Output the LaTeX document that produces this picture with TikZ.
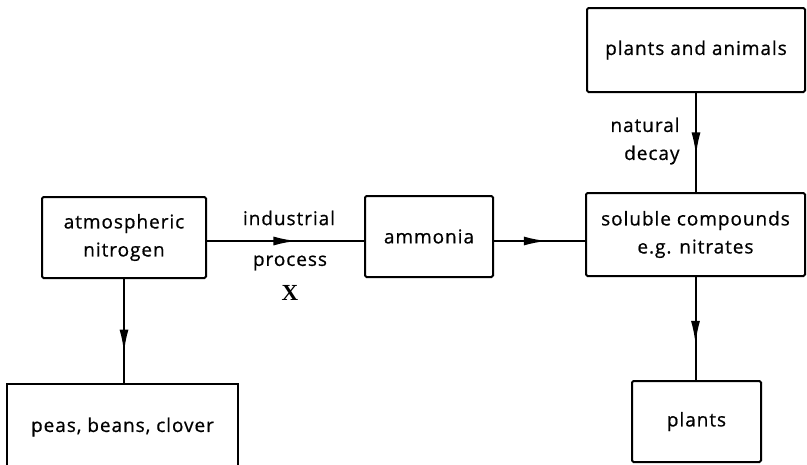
\documentclass[tikz,border=0pt]{standalone}
\usepackage{fontspec}
\setmainfont[LetterSpace=5,FakeBold=0.7]{Open Sans}
\newfontfamily\xfont{Liberation Serif}
\usetikzlibrary{arrows.meta,decorations.markings}
\tikzset{
  box/.style={draw, line width=2pt, rounded corners=1.5pt, align=center, inner sep=0pt, font=\fontsize{19}{28}\selectfont},
  lbl/.style={align=center, inner sep=0pt, font=\fontsize{19}{28}\selectfont},
  conn/.style={line width=2pt},
  arr/.style={conn, postaction={decorate}, decoration={markings, mark=at position #1 with {\arrow{Latex[length=23pt,width=9pt]}}}}
}
\begin{document}
\begin{tikzpicture}[x=1pt,y=-1pt]
\useasboundingbox (0,0) rectangle (807,464);
\clip (0,0) rectangle (807,464);
\node[box, minimum width=164pt, minimum height=81pt] (atm) at (124,237.5) {atmospheric\\nitrogen};
\node[box, minimum width=128pt, minimum height=81pt] (amm) at (429,236.5) {ammonia};
\node[box, minimum width=219pt, minimum height=83pt] (sol) at (695.5,234.5) {soluble compounds\\e.g. nitrates};
\node[box, minimum width=218pt, minimum height=84pt] (pan) at (696,50) {plants and animals};
\node[box, minimum width=129pt, minimum height=81pt] (pla) at (696.5,421.5) {plants};
\node[box, draw=none, minimum width=229pt, minimum height=84pt] (pea) at (122.5,427) {peas, beans, clover};
\draw[conn] (pea.south west) -- (pea.north west) -- (pea.north east) -- (pea.south east);
\draw[arr=0.57] ([yshift=-3.5pt]atm.east) -- ([yshift=-4.5pt]amm.west);
\draw[arr=0.58] ([yshift=-4.5pt]amm.east) -- ([yshift=-6.5pt]sol.west);
\draw[arr=0.63] (pan.south) -- (pan.south |- sol.north);
\draw[arr=0.65] (sol.south) -- (sol.south |- pla.north);
\draw[arr=0.7] (atm.south) -- (atm.south |- pea.north);
\node[lbl] (ind) at (289,218) {industrial};
\node[lbl] (pro) at (290,263) {process};
\node[lbl, font=\xfont\fontsize{23}{26}\bfseries] (x) at (290,293) {X};
\node[lbl, align=right, font=\fontsize{19}{28}\selectfont] (nat) at (645,141) {natural\\decay};
\end{tikzpicture}
\end{document}
